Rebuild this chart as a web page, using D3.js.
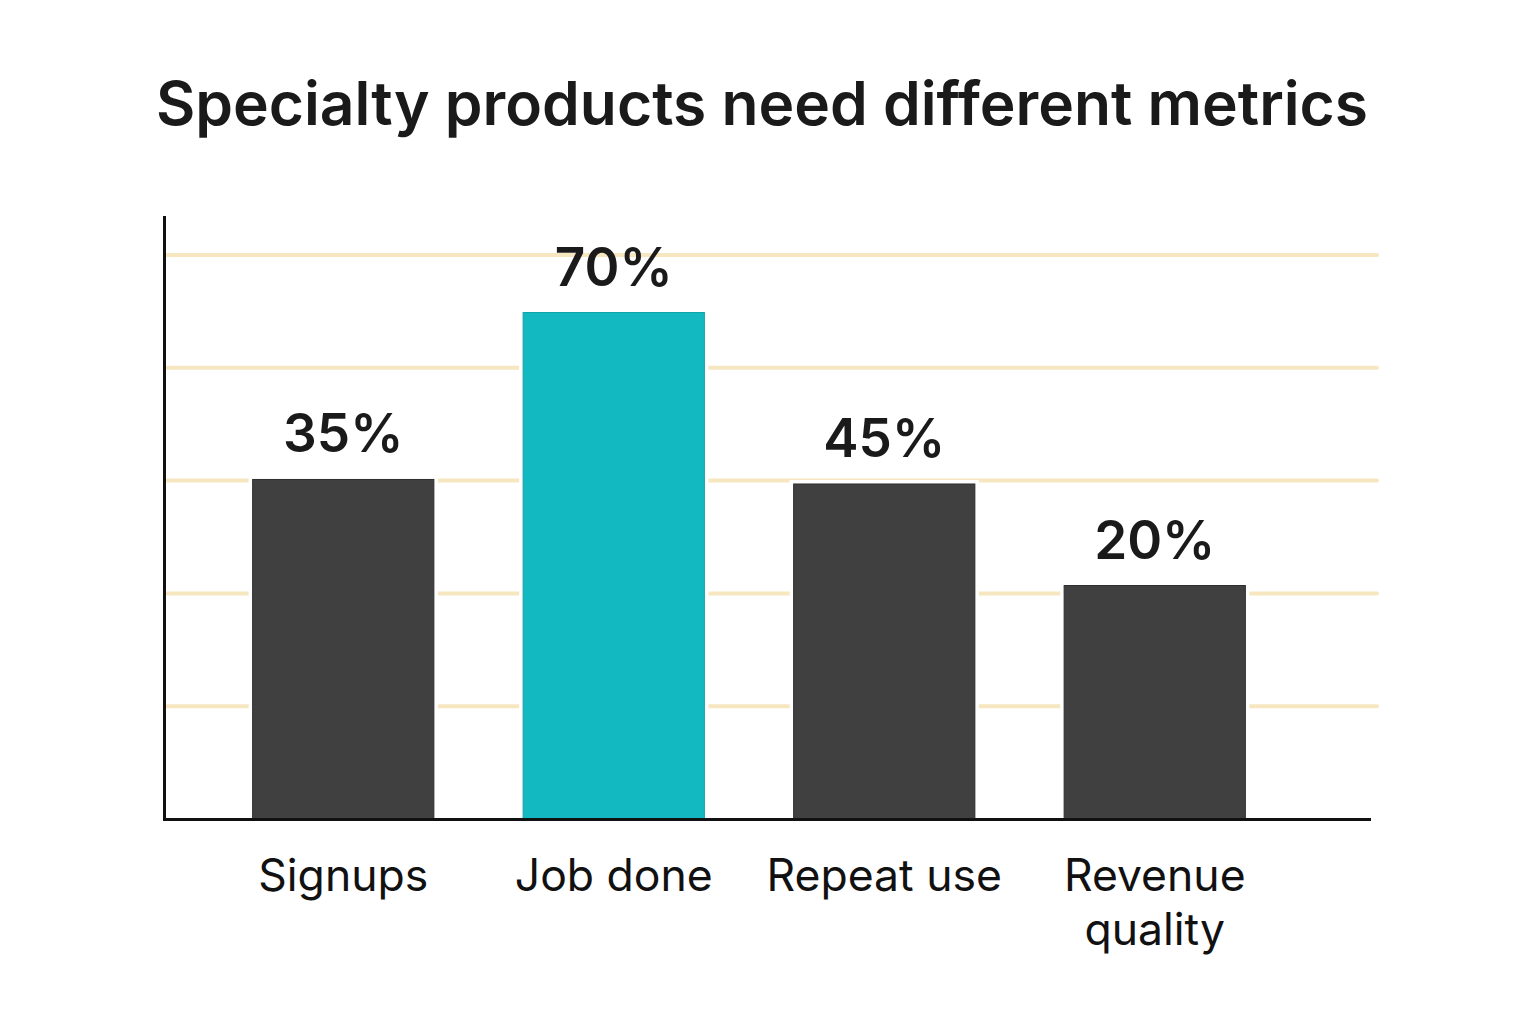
<!DOCTYPE html>
<html>
<head>
<meta charset="utf-8">
<script src="https://cdn.jsdelivr.net/npm/d3@7"></script>
<style>
  body { margin: 0; background: #fff; }
</style>
</head>
<body>
<script>
// chart data
var categories = ["Signups", "Job done", "Repeat use", "Revenue quality"];
var percentLabels = [35, 70, 45, 20];
// bar heights as drawn, in gridline steps (the picture's bars are not to scale with their labels)
var barHeights = [3.01, 4.49, 2.97, 2.07];
var gridLevels = [1, 2, 3, 4, 5];
var highlight = "Job done";

var width = 1536, height = 1024;

var svg = d3.select("body").append("svg")
            .attr("width", width)
            .attr("height", height);

// title
svg.append("text")
   .attr("x", 762)
   .attr("y", 125)
   .attr("text-anchor", "middle")
   .style("font-family", "Inter, 'Noto Sans', sans-serif")
   .style("font-weight", 600)
   .style("font-size", "60.5px")
   .style("fill", "#1a1a1a")
   .text("Specialty products need different metrics");

var x = d3.scaleBand()
          .domain(categories)
          .range([208, 1290])
          .paddingInner(0.33)
          .paddingOuter(0.165);

var y = d3.scaleLinear()
          .domain([0, 5])
          .range([819, 255]);

// gridlines
svg.selectAll("line.grid")
   .data(gridLevels)
   .enter()
   .append("line")
   .attr("class", "grid")
   .attr("x1", 167)
   .attr("x2", 1377)
   .attr("y1", function (d) { return y(d); })
   .attr("y2", function (d) { return y(d); })
   .attr("stroke", "#f6e7c1")
   .attr("stroke-width", 4)
   .attr("stroke-linecap", "round");

var rows = categories.map(function (c, i) {
  return { name: c, label: percentLabels[i], h: barHeights[i] };
});

// white halo so gridlines stop short of the bars
svg.selectAll("rect.halo")
   .data(rows)
   .enter()
   .append("rect")
   .attr("class", "halo")
   .attr("x", function (d) { return x(d.name) - 4; })
   .attr("y", function (d) { return y(d.h) - 4; })
   .attr("width", x.bandwidth() + 8)
   .attr("height", function (d) { return y(0) - y(d.h) + 4; })
   .style("fill", "#fff");

// bars
svg.selectAll("rect.bar")
   .data(rows)
   .enter()
   .append("rect")
   .attr("class", "bar")
   .attr("x", function (d) { return x(d.name); })
   .attr("y", function (d) { return y(d.h); })
   .attr("width", x.bandwidth())
   .attr("height", function (d) { return y(0) - y(d.h); })
   .style("fill", function (d) { return d.name === highlight ? "#13b9c1" : "#404040"; })
   .style("stroke", function (d) { return d.name === highlight ? "#0fa1a8" : "#2e2e2e"; })
   .style("stroke-width", 1);

// value labels
svg.selectAll("text.value")
   .data(rows)
   .enter()
   .append("text")
   .attr("class", "value")
   .attr("x", function (d) { return x(d.name) + x.bandwidth() / 2; })
   .attr("y", function (d) { return y(d.h) - 27; })
   .attr("text-anchor", "middle")
   .style("font-family", "Inter, 'Noto Sans', sans-serif")
   .style("font-weight", 600)
   .style("font-size", "53px")
   .style("fill", "#1a1a1a")
   .text(function (d) { return d.label + "%"; });

// axes lines
svg.append("line")
   .attr("x1", 164.5).attr("x2", 164.5)
   .attr("y1", 216).attr("y2", y(0) + 1.5)
   .attr("stroke", "#111").attr("stroke-width", 3);

svg.append("line")
   .attr("x1", 163).attr("x2", 1371)
   .attr("y1", y(0) + 0.5).attr("y2", y(0) + 0.5)
   .attr("stroke", "#111").attr("stroke-width", 3);

// category labels, wrapped on a space when too long
var catText = svg.selectAll("text.cat")
   .data(rows)
   .enter()
   .append("text")
   .attr("class", "cat")
   .attr("x", function (d) { return x(d.name) + x.bandwidth() / 2; })
   .attr("y", 891)
   .attr("text-anchor", "middle")
   .style("font-family", "Inter, 'Noto Sans', sans-serif")
   .style("font-weight", 400)
   .style("font-size", "44.5px")
   .style("fill", "#111");

catText.each(function (d) {
  var parts = d.name === "Revenue quality" ? ["Revenue", "quality"] : [d.name];
  var t = d3.select(this);
  parts.forEach(function (p, i) {
    t.append("tspan")
     .attr("x", x(d.name) + x.bandwidth() / 2)
     .attr("dy", i === 0 ? 0 : 54)
     .text(p);
  });
});
</script>
</body>
</html>
